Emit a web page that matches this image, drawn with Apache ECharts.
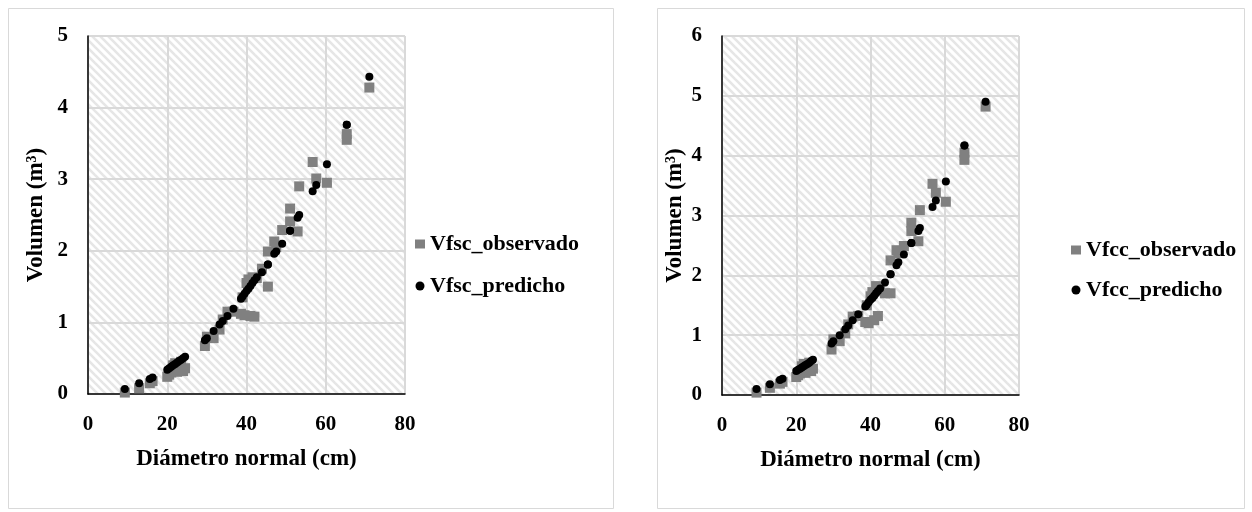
<!DOCTYPE html>
<html>
<head>
<meta charset="utf-8">
<script src="https://cdn.jsdelivr.net/npm/echarts@6/dist/echarts.min.js"></script>
<style>
html,body{margin:0;padding:0;background:#fff;}
#c{width:1252px;height:512px;}
</style>
</head>
<body>
<div id="c"></div>
<script>
// Diámetro normal (cm) of each tree
var diametros = [9.3,12.9,15.6,16.3,20.0,20.5,21.0,21.5,22.0,22.5,23.0,23.5,24.0,24.5,29.5,30.0,31.7,33.2,34.0,35.2,36.7,38.6,39.0,39.5,40.0,40.5,41.0,41.5,42.0,42.6,43.9,45.4,45.4,47.0,47.5,49.0,51.0,51.0,52.9,53.3,56.7,57.6,60.3,65.3,65.3,71.0];
// Left chart: volumen fuste sin corteza
var vfscObservado = [0.02,0.08,0.15,0.18,0.24,0.27,0.30,0.40,0.43,0.31,0.34,0.45,0.32,0.36,0.67,0.80,0.78,0.90,1.04,1.15,1.15,1.12,1.35,1.10,1.55,1.60,1.09,1.63,1.08,1.62,1.75,1.50,1.99,2.13,2.05,2.29,2.41,2.59,2.27,2.90,3.24,3.01,2.95,3.55,3.63,4.28];
var vfscPredicho  = [0.07,0.15,0.21,0.23,0.34,0.36,0.38,0.40,0.42,0.44,0.46,0.48,0.50,0.52,0.75,0.78,0.88,0.97,1.02,1.09,1.19,1.33,1.36,1.40,1.44,1.47,1.51,1.55,1.59,1.63,1.70,1.81,1.81,1.96,1.99,2.10,2.28,2.28,2.46,2.50,2.83,2.92,3.21,3.76,3.76,4.43];
// Right chart: volumen fuste con corteza
var vfccObservado = [0.04,0.12,0.19,0.22,0.30,0.33,0.36,0.48,0.52,0.37,0.40,0.54,0.40,0.44,0.76,0.93,0.90,1.03,1.18,1.31,1.32,1.22,1.50,1.20,1.65,1.72,1.25,1.82,1.32,1.75,1.70,1.70,2.25,2.42,2.37,2.49,2.74,2.88,2.57,3.09,3.53,3.38,3.23,3.93,4.05,4.82];
var vfccPredicho  = [0.10,0.18,0.25,0.27,0.40,0.42,0.44,0.46,0.48,0.50,0.52,0.54,0.57,0.59,0.86,0.90,1.00,1.10,1.16,1.25,1.35,1.48,1.51,1.55,1.59,1.62,1.66,1.70,1.74,1.78,1.88,2.02,2.02,2.17,2.22,2.35,2.54,2.54,2.74,2.79,3.14,3.25,3.57,4.17,4.17,4.90];

var xTicks = {min:0, max:80, interval:20};
var yLeft = {min:0, max:5, interval:1};
var yRight = {min:0, max:6, interval:1};

function pairs(xs, ys){ return xs.map(function(x,i){ return [x, ys[i]]; }); }

// hatch pattern (downward diagonal)
var pc = document.createElement('canvas');
var S = 8; pc.width = S; pc.height = S;
var g = pc.getContext('2d');
g.fillStyle = '#ffffff'; g.fillRect(0,0,S,S);
g.strokeStyle = '#e6e6e6'; g.lineWidth = 2.6;
for (var k=-1;k<=1;k++){ g.beginPath(); g.moveTo(k*S - S, -S); g.lineTo(k*S + 2*S, 2*S); g.stroke(); }
var hatch = {image: pc, repeat: 'repeat'};

var FONT = '"Liberation Serif", "DejaVu Serif", serif';
var tickLabel = {color:'#000', fontFamily:FONT, fontWeight:'bold', fontSize:21, margin:20};
var nameStyle = {color:'#000', fontFamily:FONT, fontWeight:'bold', fontSize:23,
  rich:{sup:{fontFamily:FONT, fontWeight:'bold', fontSize:14, verticalAlign:'top', padding:[0,0,8,0], color:'#000'}}};

function xAxis(gi){
  return {type:'value', gridIndex:gi, min:xTicks.min, max:xTicks.max, interval:xTicks.interval,
    name:'Diámetro normal (cm)', nameLocation:'middle', nameGap:54, nameTextStyle:nameStyle,
    axisLine:{show:true, onZero:false, lineStyle:{color:'#000', width:1.5}},
    axisTick:{show:false}, axisLabel:tickLabel,
    splitLine:{show:true, lineStyle:{color:'#d9d9d9', width:2}}};
}
function yAxis(gi, t, gap){
  return {type:'value', gridIndex:gi, min:t.min, max:t.max, interval:t.interval,
    name:'Volumen (m{sup|3})', nameLocation:'middle', nameGap:gap, nameRotate:90, nameTextStyle:nameStyle,
    axisLine:{show:true, onZero:false, lineStyle:{color:'#000', width:1.5}},
    axisTick:{show:false}, axisLabel:tickLabel,
    splitLine:{show:true, lineStyle:{color:'#d9d9d9', width:2}}};
}
var legendText = {color:'#000', fontFamily:FONT, fontWeight:'bold', fontSize:22};

var option = {
  backgroundColor:'#fff',
  animation:false,
  graphic:[
    {type:'rect', shape:{x:8.5, y:8.5, width:605, height:500}, style:{fill:'none', stroke:'#d9d9d9', lineWidth:1}, z:-10},
    {type:'rect', shape:{x:657.5, y:8.5, width:587, height:500}, style:{fill:'none', stroke:'#d9d9d9', lineWidth:1}, z:-10}
  ],
  grid:[
    {left:88, top:36, width:317, height:358, show:true, backgroundColor:hatch, borderWidth:0},
    {left:722, top:36, width:297, height:359, show:true, backgroundColor:hatch, borderWidth:0}
  ],
  xAxis:[xAxis(0), xAxis(1)],
  yAxis:[yAxis(0, yLeft, 40), yAxis(1, yRight, 35)],
  legend:[
    {orient:'vertical', left:410, top:228, itemGap:20, itemWidth:10, itemHeight:9, textStyle:legendText,
      data:[{name:'Vfsc_observado', icon:'rect'},{name:'Vfsc_predicho', icon:'circle'}]},
    {orient:'vertical', left:1066, top:234, itemGap:18, itemWidth:10, itemHeight:9, textStyle:legendText,
      data:[{name:'Vfcc_observado', icon:'rect'},{name:'Vfcc_predicho', icon:'circle'}]}
  ],
  series:[
    {name:'Vfsc_observado', type:'scatter', xAxisIndex:0, yAxisIndex:0, symbol:'rect', symbolSize:10,
      itemStyle:{color:'#808080', opacity:1}, data:pairs(diametros, vfscObservado)},
    {name:'Vfsc_predicho', type:'scatter', xAxisIndex:0, yAxisIndex:0, symbol:'circle', symbolSize:8,
      itemStyle:{color:'#000', opacity:1}, data:pairs(diametros, vfscPredicho)},
    {name:'Vfcc_observado', type:'scatter', xAxisIndex:1, yAxisIndex:1, symbol:'rect', symbolSize:10,
      itemStyle:{color:'#808080', opacity:1}, data:pairs(diametros, vfccObservado)},
    {name:'Vfcc_predicho', type:'scatter', xAxisIndex:1, yAxisIndex:1, symbol:'circle', symbolSize:8,
      itemStyle:{color:'#000', opacity:1}, data:pairs(diametros, vfccPredicho)}
  ]
};
var chart = echarts.init(document.getElementById('c'), null, {renderer:'canvas'});
chart.setOption(option);
</script>
</body>
</html>
